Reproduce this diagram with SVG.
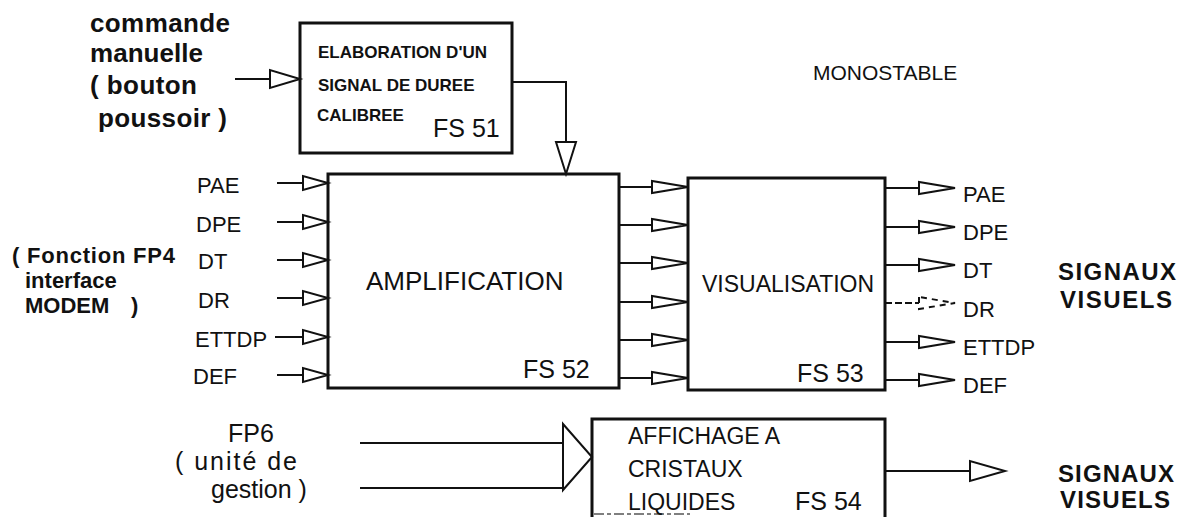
<svg xmlns="http://www.w3.org/2000/svg" xmlns:xlink="http://www.w3.org/1999/xlink" width="1188" height="517" viewBox="0 0 1188 517">
<style>
.box{fill:none;stroke:#111;stroke-width:3}
.ln{fill:none;stroke:#111;stroke-width:2}
.tri{fill:#fff;stroke:#111;stroke-width:2;stroke-linejoin:miter}
text{font-family:"Liberation Sans",Arial,Helvetica,sans-serif;fill:#111}
.b{font-weight:bold}
.lab{font-size:22px}
.fs{font-size:25px}
.sig{font-size:24px;font-weight:bold}
</style>
<defs>
<path id="tl" class="tri" d="M-25,-7 L-25,7 L0,0 Z"/>
<path id="tm" class="tri" d="M-36,-6 L-36,6 L0,0 Z"/>
</defs>
<rect width="1188" height="517" fill="#fff"/>

<g id="connectors">
  <!-- manual command to FS51 -->
  <line class="ln" x1="235" y1="79" x2="270" y2="79"/>
  <path class="tri" d="M270,70 L270,88 L300,79 Z"/>
  <!-- FS51 to FS52 -->
  <polyline class="ln" points="512,82 566,82 566,142"/>
  <path class="tri" d="M556,142 L576,142 L566,174 Z"/>
  <!-- inputs to FS52 -->
  <g class="ln">
    <line x1="277" y1="183" x2="303" y2="183"/>
    <line x1="277" y1="222" x2="303" y2="222"/>
    <line x1="277" y1="260" x2="303" y2="260"/>
    <line x1="277" y1="298" x2="303" y2="298"/>
    <line x1="275" y1="337" x2="303" y2="337"/>
    <line x1="277" y1="375" x2="303" y2="375"/>
  </g>
  <use xlink:href="#tl" x="328" y="183"/>
  <use xlink:href="#tl" x="328" y="222"/>
  <use xlink:href="#tl" x="328" y="260"/>
  <use xlink:href="#tl" x="328" y="298"/>
  <use xlink:href="#tl" x="328" y="337"/>
  <use xlink:href="#tl" x="328" y="375"/>
  <!-- FS52 to FS53 -->
  <g class="ln">
    <line x1="620" y1="187" x2="652" y2="187"/>
    <line x1="620" y1="225" x2="652" y2="225"/>
    <line x1="620" y1="263" x2="652" y2="263"/>
    <line x1="620" y1="302" x2="652" y2="302"/>
    <line x1="620" y1="340" x2="652" y2="340"/>
    <line x1="620" y1="378" x2="652" y2="378"/>
  </g>
  <use xlink:href="#tm" x="688" y="187"/>
  <use xlink:href="#tm" x="688" y="225"/>
  <use xlink:href="#tm" x="688" y="263"/>
  <use xlink:href="#tm" x="688" y="302"/>
  <use xlink:href="#tm" x="688" y="340"/>
  <use xlink:href="#tm" x="688" y="378"/>
  <!-- FS53 outputs -->
  <g class="ln">
    <line x1="885" y1="188" x2="920" y2="188"/>
    <line x1="885" y1="227" x2="920" y2="227"/>
    <line x1="885" y1="265" x2="920" y2="265"/>
    <line x1="885" y1="303" x2="920" y2="303" stroke-dasharray="7 3"/>
    <line x1="885" y1="342" x2="920" y2="342"/>
    <line x1="885" y1="380" x2="920" y2="380"/>
  </g>
  <use xlink:href="#tm" x="955" y="188"/>
  <use xlink:href="#tm" x="955" y="227"/>
  <use xlink:href="#tm" x="955" y="265"/>
  <path class="tri" d="M919,297 L919,309 L955,303 Z" stroke-dasharray="6 5"/>
  <use xlink:href="#tm" x="955" y="342"/>
  <use xlink:href="#tm" x="955" y="380"/>
  <!-- FP6 to FS54 -->
  <line class="ln" x1="360" y1="443" x2="564" y2="443"/>
  <line class="ln" x1="360" y1="488" x2="564" y2="488"/>
  <path class="tri" d="M563,424 L563,490 L592,457 Z"/>
  <!-- FS54 output -->
  <line class="ln" x1="885" y1="471" x2="970" y2="471"/>
  <path class="tri" d="M970,461 L970,481 L1005,471 Z"/>
</g>

<g id="cmd">
  <text class="b" font-size="26" x="90" y="32" textLength="140">commande</text>
  <text class="b" font-size="26" x="90" y="62" textLength="113">manuelle</text>
  <text class="b" font-size="26" x="90" y="94" textLength="107">( bouton</text>
  <text class="b" font-size="26" x="98" y="127" textLength="129">poussoir )</text>
</g>

<g id="fs51">
  <rect class="box" x="300" y="23" width="212" height="130"/>
  <text class="b" font-size="17" x="318" y="58">ELABORATION D'UN</text>
  <text class="b" font-size="17" x="318" y="91">SIGNAL DE DUREE</text>
  <text class="b" font-size="17" x="317" y="121">CALIBREE</text>
  <text class="fs" x="433" y="137">FS 51</text>
</g>

<g id="monostable">
  <text font-size="21" x="813" y="80">MONOSTABLE</text>
</g>

<g id="inputs">
  <text class="lab" x="197" y="193">PAE</text>
  <text class="lab" x="196" y="232">DPE</text>
  <text class="lab" x="198" y="269">DT</text>
  <text class="lab" x="198" y="308">DR</text>
  <text class="lab" x="195" y="347">ETTDP</text>
  <text class="lab" x="193" y="384">DEF</text>
</g>

<g id="fp4">
  <text class="b" font-size="22" x="12" y="263" textLength="163">( Fonction FP4</text>
  <text class="b" font-size="22" x="25" y="288">interface</text>
  <text class="b" font-size="22" x="25" y="313"><tspan>MODEM</tspan><tspan x="131">)</tspan></text>
</g>

<g id="fs52">
  <rect class="box" x="328" y="174" width="291" height="214"/>
  <text font-size="26" x="366" y="290">AMPLIFICATION</text>
  <text class="fs" x="523" y="378">FS 52</text>
</g>

<g id="fs53">
  <rect class="box" x="688" y="178" width="197" height="212"/>
  <text font-size="23" x="702" y="292">VISUALISATION</text>
  <text class="fs" x="797" y="382">FS 53</text>
</g>

<g id="outputs">
  <text class="lab" x="963" y="202">PAE</text>
  <text class="lab" x="963" y="240">DPE</text>
  <text class="lab" x="963" y="278">DT</text>
  <text class="lab" x="963" y="317">DR</text>
  <text class="lab" x="963" y="355">ETTDP</text>
  <text class="lab" x="963" y="393">DEF</text>
</g>

<g id="signaux1">
  <text class="sig" x="1058" y="280" textLength="118">SIGNAUX</text>
  <text class="sig" x="1060" y="308" textLength="112">VISUELS</text>
</g>

<g id="fp6">
  <text font-size="25" x="228" y="442">FP6</text>
  <text font-size="25" x="175" y="470" textLength="122">( unité de</text>
  <text font-size="25" x="211" y="498">gestion )</text>
</g>

<g id="fs54">
  <path class="box" d="M592,517 V419 H885 V517"/>
  <line x1="594" y1="514" x2="690" y2="514" stroke="#555" stroke-width="1.5" stroke-dasharray="10 3 4 3"/>
  <text font-size="23" x="628" y="444">AFFICHAGE A</text>
  <text font-size="23" x="628" y="477">CRISTAUX</text>
  <text font-size="23" x="628" y="510">LIQUIDES</text>
  <text class="fs" x="795" y="510">FS 54</text>
</g>

<g id="signaux2">
  <text class="sig" x="1058" y="482" textLength="116">SIGNAUX</text>
  <text class="sig" x="1060" y="508" textLength="110">VISUELS</text>
</g>
</svg>
